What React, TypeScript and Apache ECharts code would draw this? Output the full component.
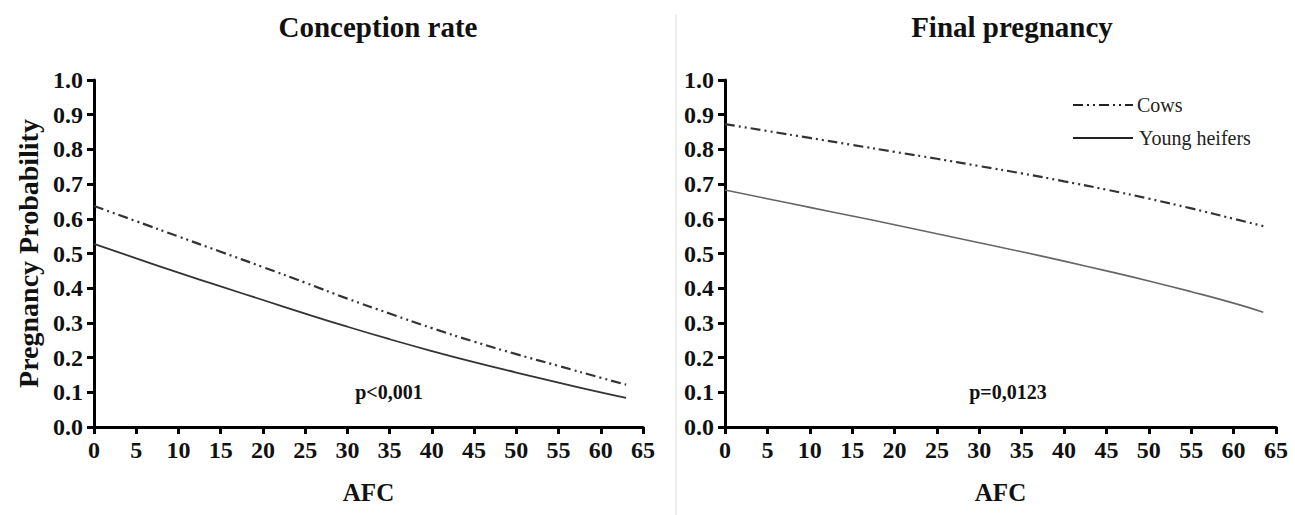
import React, { useEffect, useRef } from "react";
import * as echarts from "echarts";

// AFC sample positions
const afcLeft = [0, 5, 10, 15, 20, 25, 30, 35, 40, 45, 50, 55, 60, 63];
const afcRight = [0, 5, 10, 15, 20, 25, 30, 35, 40, 45, 50, 55, 60, 63.5];

// Conception rate
const conceptionCows = [0.637, 0.593, 0.549, 0.505, 0.461, 0.416, 0.37, 0.327, 0.285, 0.246, 0.21, 0.176, 0.142, 0.122];
const conceptionHeifers = [0.528, 0.486, 0.445, 0.405, 0.366, 0.327, 0.289, 0.253, 0.219, 0.187, 0.157, 0.128, 0.1, 0.084];

// Final pregnancy
const finalCows = [0.873, 0.853, 0.833, 0.813, 0.793, 0.773, 0.752, 0.731, 0.708, 0.684, 0.658, 0.63, 0.6, 0.579];
const finalHeifers = [0.683, 0.658, 0.633, 0.608, 0.583, 0.557, 0.531, 0.505, 0.478, 0.45, 0.421, 0.39, 0.357, 0.331];

const panelTitles = ["Conception rate", "Final pregnancy"];
const pValues = ["p<0,001", "p=0,0123"];
const seriesNames = ["Cows", "Young heifers"];
const yAxisTitle = "Pregnancy Probability";
const xAxisTitle = "AFC";

const FONT = "'Liberation Serif', 'Times New Roman', serif";
const DASH_DOT_DOT = [10, 4, 2, 4, 2, 4];

const pairs = (xs: number[], ys: number[]) => xs.map((x, i) => [x, ys[i]]);

export default function App() {
  const ref = useRef<HTMLDivElement>(null);

  useEffect(() => {
    if (!ref.current) return;
    const chart = echarts.init(ref.current, null, { renderer: "svg" });

    const xAxisBase = (gridIndex: number) => ({
      type: "value",
      gridIndex,
      min: 0,
      max: 65,
      interval: 5,
      name: xAxisTitle,
      nameLocation: "middle",
      nameGap: 53,
      nameTextStyle: { fontFamily: FONT, fontWeight: "bold", fontSize: 25, color: "#111" },
      axisLine: { show: true, onZero: false, lineStyle: { color: "#000", width: 3 } },
      axisTick: { show: true, length: 7, lineStyle: { color: "#000", width: 3 } },
      axisLabel: { fontFamily: FONT, fontWeight: "bold", fontSize: 24, color: "#111", margin: 11 },
      splitLine: { show: false },
    });

    const yAxisBase = (gridIndex: number, withName: boolean) => ({
      type: "value",
      gridIndex,
      min: 0,
      max: 1,
      interval: 0.1,
      name: withName ? yAxisTitle : "",
      nameLocation: "middle",
      nameRotate: 90,
      nameGap: 52,
      nameTextStyle: { fontFamily: FONT, fontWeight: "bold", fontSize: 28, color: "#111" },
      axisLine: { show: true, onZero: false, lineStyle: { color: "#000", width: 3 } },
      axisTick: { show: true, length: 7, lineStyle: { color: "#000", width: 3 } },
      axisLabel: {
        fontFamily: FONT,
        fontWeight: "bold",
        fontSize: 24,
        color: "#111",
        margin: 11,
        formatter: (v: number) => v.toFixed(1),
      },
      splitLine: { show: false },
    });

    const lineSeries = (
      name: string,
      axis: number,
      xs: number[],
      ys: number[],
      color: string,
      width: number,
      type: any
    ) => ({
      name,
      type: "line",
      xAxisIndex: axis,
      yAxisIndex: axis,
      smooth: true,
      symbol: "none",
      data: pairs(xs, ys),
      lineStyle: { color, width, type },
    });

    const legendItem = (label: string, y: number, dash: any, textX: number) => [
      {
        type: "line",
        shape: { x1: 1073, y1: y, x2: 1133, y2: y },
        style: { stroke: "#222", lineWidth: 2.2, lineDash: dash },
      },
      {
        type: "text",
        x: textX,
        y,
        style: {
          text: label,
          fontFamily: FONT,
          fontSize: 20,
          fill: "#222",
          textAlign: "left",
          textVerticalAlign: "middle",
        },
      },
    ];

    const pText = (text: string, x: number) => ({
      type: "text",
      x,
      y: 392,
      style: {
        text,
        fontFamily: FONT,
        fontWeight: "bold",
        fontSize: 20,
        fill: "#111",
        textAlign: "center",
        textVerticalAlign: "middle",
      },
    });

    const option: any = {
      animation: false,
      backgroundColor: "#fff",
      title: [
        {
          text: panelTitles[0],
          left: 378,
          top: 12,
          padding: 0,
          textAlign: "center",
          textStyle: { fontFamily: FONT, fontWeight: "bold", fontSize: 29, color: "#111" },
        },
        {
          text: panelTitles[1],
          left: 1012,
          top: 12,
          padding: 0,
          textAlign: "center",
          textStyle: { fontFamily: FONT, fontWeight: "bold", fontSize: 29, color: "#111" },
        },
      ],
      grid: [
        { left: 94, right: 1295 - 643, top: 80, bottom: 515 - 427 },
        { left: 725, right: 1295 - 1276, top: 80, bottom: 515 - 427 },
      ],
      xAxis: [xAxisBase(0), xAxisBase(1)],
      yAxis: [yAxisBase(0, true), yAxisBase(1, false)],
      series: [
        lineSeries(seriesNames[0], 0, afcLeft, conceptionCows, "#333", 2.2, DASH_DOT_DOT),
        lineSeries(seriesNames[1], 0, afcLeft, conceptionHeifers, "#333", 1.8, "solid"),
        lineSeries(seriesNames[0], 1, afcRight, finalCows, "#333", 2.2, DASH_DOT_DOT),
        lineSeries(seriesNames[1], 1, afcRight, finalHeifers, "#666", 1.6, "solid"),
      ],
      graphic: [
        {
          type: "line",
          shape: { x1: 676, y1: 14, x2: 676, y2: 515 },
          style: { stroke: "#dddddd", lineWidth: 1 },
        },
        ...legendItem(seriesNames[0], 105, DASH_DOT_DOT, 1137),
        ...legendItem(seriesNames[1], 138, null, 1139),
        pText(pValues[0], 389),
        pText(pValues[1], 1008),
      ],
    };

    chart.setOption(option);
    return () => chart.dispose();
  }, []);

  return (
    <div
      ref={ref}
      style={{ position: "absolute", left: 0, top: 0, width: 1295, height: 515, background: "#fff" }}
    />
  );
}
